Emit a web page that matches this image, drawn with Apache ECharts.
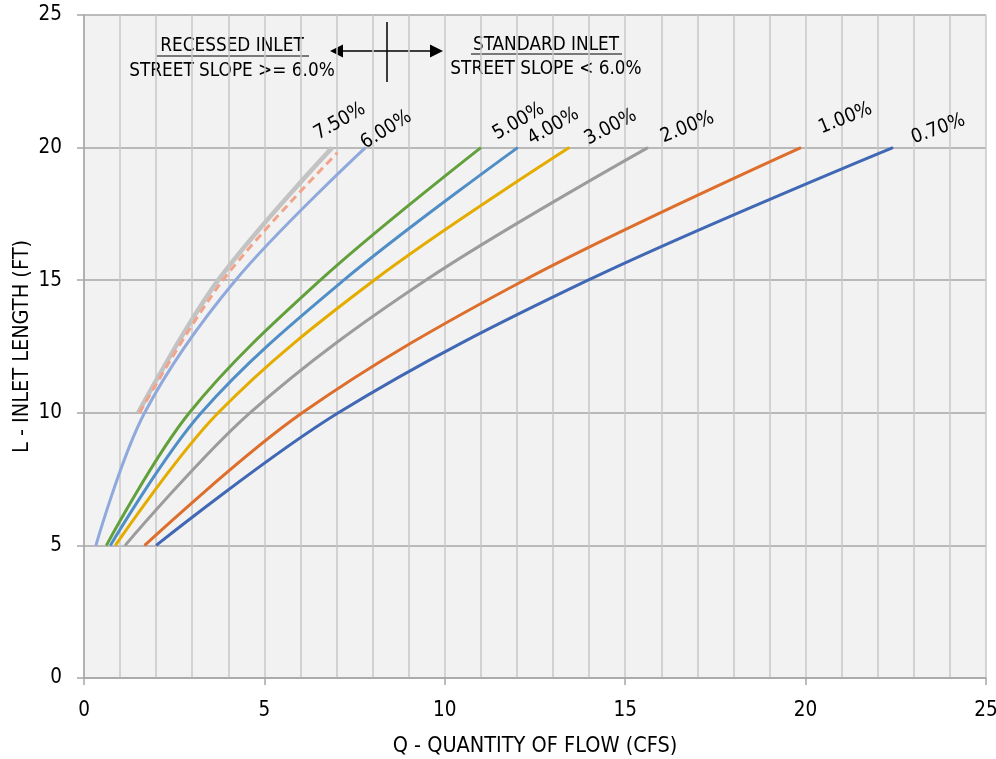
<!DOCTYPE html>
<html>
<head>
<meta charset="utf-8">
<script src="https://cdn.jsdelivr.net/npm/echarts@6/dist/echarts.min.js"></script>
<style>
  html, body { margin: 0; padding: 0; background: #fff; }
  #chart { width: 996px; height: 759px; }
</style>
</head>
<body>
<div id="chart"></div>
<script>
// ---- data ----
const lengthFt        = [5, 10, 15, 20];
const lengthFtUpper   = [10, 15, 20];
const lengthFtDashed  = [10, 15, 19.8];

const flow070 = [2.00, 7.05, 13.97, 22.42];
const flow100 = [1.68, 6.05, 12.20, 19.87];
const flow200 = [1.14, 4.60, 9.47, 15.63];
const flow300 = [0.87, 3.72, 8.04, 13.45];
const flow400 = [0.73, 3.25, 7.20, 12.02];
const flow500 = [0.62, 2.92, 6.55, 11.00];
const flow600 = [0.33, 1.68, 4.20, 7.80];
const flow750 = [1.50, 3.72, 6.88];
const flowDashed = [1.54, 3.85, 7.02];

const slopeNames = ['0.70%', '1.00%', '2.00%', '3.00%', '4.00%', '5.00%', '6.00%', '7.50%', ''];

const xTicks = [0, 5, 10, 15, 20, 25];
const yTicks = [0, 5, 10, 15, 20, 25];

// ---- styles ----
const FONT = "'DejaVu Sans Condensed', 'Liberation Sans Narrow', sans-serif";
const seriesDefs = [
  { name: slopeNames[0], xs: flow070, ys: lengthFt, color: '#4068b4', width: 3, rot: 20, off: [23, 1] },
  { name: slopeNames[1], xs: flow100, ys: lengthFt, color: '#de6e2c', width: 3, rot: 22, off: [23, -9] },
  { name: slopeNames[2], xs: flow200, ys: lengthFt, color: '#9c9c9c', width: 3, rot: 22, off: [18, 0] },
  { name: slopeNames[3], xs: flow300, ys: lengthFt, color: '#e5ac00', width: 3, rot: 28, off: [22, 2] },
  { name: slopeNames[4], xs: flow400, ys: lengthFt, color: '#4f8ec6', width: 3, rot: 30, off: [17, 2] },
  { name: slopeNames[5], xs: flow500, ys: lengthFt, color: '#62a03c', width: 3, rot: 30, off: [19, -3] },
  { name: slopeNames[6], xs: flow600, ys: lengthFt, color: '#8fa9dc', width: 3, rot: 32, off: [3, 6] },
  { name: slopeNames[7], xs: flow750, ys: lengthFtUpper, color: '#c3c3c3', width: 4.5, rot: 30, off: [-11, -3] },
  { name: 'dashed', xs: flowDashed, ys: lengthFtDashed, color: '#f2a48a', width: 3, dash: [8, 5], rot: 0, off: [0, 0], noLabel: true }
];

const series = seriesDefs.map(d => {
  const data = d.xs.map((x, i) => {
    const item = { value: [x, d.ys[i]] };
    if (i === d.xs.length - 1 && !d.noLabel) {
      item.label = {
        show: true,
        formatter: d.name,
        position: d.off,
        rotate: d.rot,
        align: 'left',
        verticalAlign: 'bottom',
        fontFamily: FONT,
        fontSize: 19.5,
        color: '#000'
      };
    }
    return item;
  });
  return {
    type: 'line',
    name: d.name,
    data: data,
    smooth: 0.35,
    showSymbol: true,
    symbol: 'circle',
    symbolSize: 1,
    itemStyle: { color: d.color },
    lineStyle: { color: d.color, width: d.width, type: d.dash || 'solid', cap: 'butt' },
    label: { show: false },
    emphasis: { disabled: true },
    z: d.name === 'dashed' ? 3 : 2,
    silent: true,
    animation: false
  };
});

const chart = echarts.init(document.getElementById('chart'), null, { renderer: 'canvas' });

const textStyle = { fontFamily: FONT, fontSize: 18.8, fill: '#000' };

chart.setOption({
  animation: false,
  backgroundColor: '#ffffff',
  grid: {
    left: 84, right: 10, top: 15, bottom: 81,
    containLabel: false,
    outerBoundsMode: 'none',
    show: true, backgroundColor: '#f2f2f2', borderWidth: 0
  },
  xAxis: {
    type: 'value',
    min: xTicks[0], max: xTicks[xTicks.length - 1], interval: xTicks[1] - xTicks[0],
    name: 'Q - QUANTITY OF FLOW (CFS)',
    nameLocation: 'middle',
    nameGap: 57,
    nameMoveOverlap: false,
    nameTextStyle: { fontFamily: FONT, fontSize: 21.5, color: '#000' },
    axisLine: { show: true, lineStyle: { color: '#a6a6a6', width: 1.5 } },
    axisTick: { show: true, length: 7, lineStyle: { color: '#a6a6a6', width: 1.5 } },
    axisLabel: { fontFamily: FONT, fontSize: 20.5, color: '#000', margin: 22 },
    splitLine: { show: true, lineStyle: { color: '#c8c8c8', width: 1.5 } },
    minorTick: { show: false, splitNumber: 5 },
    minorSplitLine: { show: true, lineStyle: { color: '#c8c8c8', width: 1.5 } }
  },
  yAxis: {
    type: 'value',
    min: yTicks[0], max: yTicks[yTicks.length - 1], interval: yTicks[1] - yTicks[0],
    name: 'L - INLET LENGTH (FT)',
    nameLocation: 'middle',
    nameGap: 51,
    nameMoveOverlap: false,
    nameRotate: 90,
    nameTextStyle: { fontFamily: FONT, fontSize: 21.5, color: '#000' },
    axisLine: { show: true, lineStyle: { color: '#a6a6a6', width: 1.5 } },
    axisTick: { show: true, length: 7, lineStyle: { color: '#a6a6a6', width: 1.5 } },
    axisLabel: { fontFamily: FONT, fontSize: 20.5, color: '#000', margin: 22 },
    splitLine: { show: true, lineStyle: { color: '#a6a6a6', width: 1.5 } }
  },
  series: series,
  graphic: [
    { type: 'text', x: 232, y: 46, style: Object.assign({ text: 'RECESSED INLET', align: 'center', verticalAlign: 'middle' }, textStyle) },
    { type: 'line', shape: { x1: 157, y1: 56, x2: 309, y2: 56 }, style: { stroke: '#000', lineWidth: 1.2 } },
    { type: 'text', x: 232, y: 71, style: Object.assign({ text: 'STREET SLOPE >= 6.0%', align: 'center', verticalAlign: 'middle' }, textStyle) },
    { type: 'text', x: 546, y: 45, style: Object.assign({ text: 'STANDARD INLET', align: 'center', verticalAlign: 'middle' }, textStyle) },
    { type: 'line', shape: { x1: 471, y1: 54, x2: 622, y2: 54 }, style: { stroke: '#000', lineWidth: 1.2 } },
    { type: 'text', x: 546, y: 69, style: Object.assign({ text: 'STREET SLOPE < 6.0%', align: 'center', verticalAlign: 'middle' }, textStyle) },
    { type: 'line', shape: { x1: 340, y1: 51, x2: 433, y2: 51 }, style: { stroke: '#000', lineWidth: 1.5 } },
    { type: 'polygon', shape: { points: [[330, 51], [343, 44.5], [343, 57.5]] }, style: { fill: '#000' } },
    { type: 'polygon', shape: { points: [[443, 51], [430, 44.5], [430, 57.5]] }, style: { fill: '#000' } },
    { type: 'line', shape: { x1: 387, y1: 22, x2: 387, y2: 82 }, style: { stroke: '#000', lineWidth: 1.5 } }
  ]
});
</script>
</body>
</html>
